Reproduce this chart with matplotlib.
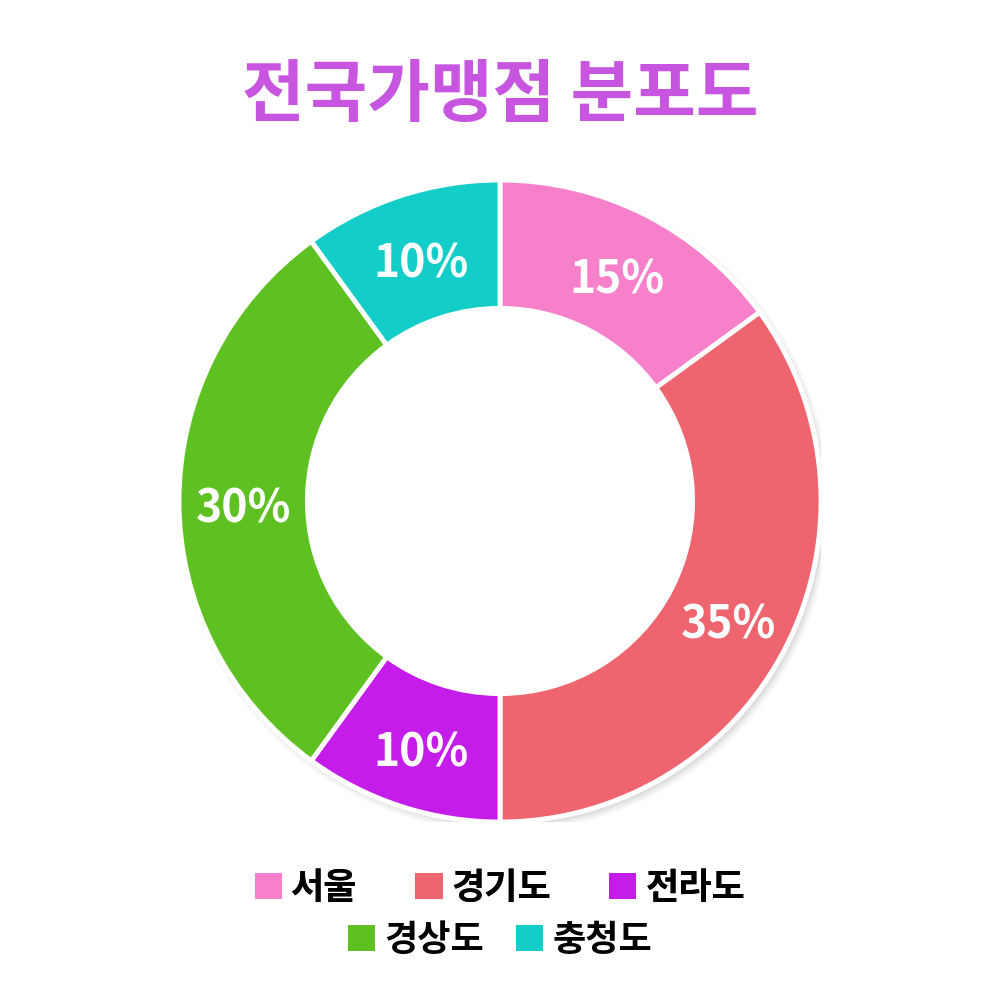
import matplotlib.pyplot as plt
from matplotlib.patches import Patch, Circle

plt.rcParams['font.family'] = ['Noto Sans CJK KR', 'DejaVu Sans']

# data
regions = ['서울', '경기도', '전라도', '경상도', '충청도']
shares = [15, 35, 10, 30, 10]
colors = ['#F680CA', '#EE6570', '#C41DEA', '#5EC121', '#12CDC8']
title = '전국가맹점 분포도'

fig = plt.figure(figsize=(10, 10.01), dpi=100)

# pie axes: centre ~ (500, 501) px, outer radius ~321 px
r_px = 321
ax = fig.add_axes([(500 - r_px) / 1000, (500 - r_px) / 1001, 2 * r_px / 1000, 2 * r_px / 1001])
ax.set_xlim(-1, 1)
ax.set_ylim(-1, 1)
ax.set_aspect('equal')
ax.axis('off')

# faint drop shadow
for i, a in enumerate([0.05, 0.04, 0.03]):
    ax.add_patch(Circle((0.012, -0.014), 1.0 + 0.008 * i, color='#000000', alpha=a,
                        zorder=0, lw=0))
ax.add_patch(Circle((0, 0), 0.6, color='white', zorder=0.5, lw=0))

wedges, texts, autotexts = ax.pie(
    shares, colors=colors, startangle=90, counterclock=False, radius=1.0,
    autopct='%d%%', pctdistance=0.8,
    wedgeprops=dict(width=0.4, edgecolor='white', linewidth=3.5),
    textprops=dict(color='white', fontsize=32, fontweight='bold'))
for w in wedges:
    w.set_zorder(1)
for t in autotexts:
    t.set_zorder(2)
    x, y = t.get_position()
    t.set_position((x, y - 0.025))
ax.set_xlim(-1, 1)
ax.set_ylim(-1, 1)

fig.text(0.5, 1 - 97 / 1001, title, ha='center', va='center', fontsize=49,
         fontweight='bold', color='#C755E0')

handles = [Patch(facecolor=c, edgecolor='none') for c in colors]
leg1 = fig.legend(handles[:3], regions[:3], loc='center', bbox_to_anchor=(0.5, 1 - 888 / 1001),
                  ncol=3, frameon=False, handlelength=0.75, handleheight=0.75,
                  handletextpad=0.25, columnspacing=1.6, borderaxespad=0,
                  prop=dict(size=26, weight='bold'))
fig.add_artist(leg1)
fig.legend(handles[3:], regions[3:], loc='center', bbox_to_anchor=(0.5, 1 - 940 / 1001),
           ncol=2, frameon=False, handlelength=0.75, handleheight=0.75,
           handletextpad=0.25, columnspacing=0.9, borderaxespad=0,
           prop=dict(size=26, weight='bold'))

plt.savefig('out.png', dpi=100)
